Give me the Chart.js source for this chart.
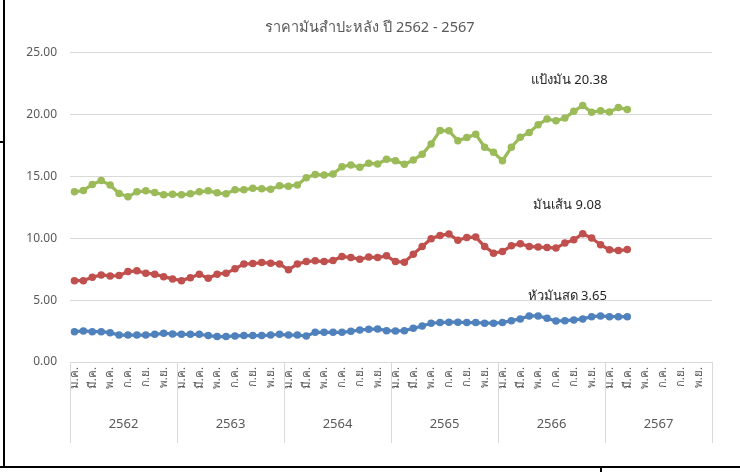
<!DOCTYPE html>
<html>
<head>
<meta charset="utf-8">
<script src="https://cdn.jsdelivr.net/npm/chart.js@4"></script>
<style>
  html, body { margin: 0; padding: 0; background: #fff; }
  #wrap { position: relative; width: 740px; height: 472px; overflow: hidden; }
  #c { position: absolute; left: 0; top: 0; }
  .ln { position: absolute; background: #000; }
</style>
</head>
<body>
<div id="wrap">
  <canvas id="c" width="740" height="472"></canvas>
  <div class="ln" style="left:3px;top:0;width:2px;height:468px"></div>
  <div class="ln" style="left:0;top:141px;width:5px;height:2px"></div>
  <div class="ln" style="left:0;top:466px;width:740px;height:2px"></div>
  <div class="ln" style="left:600px;top:467px;width:2px;height:5px"></div>
</div>
<script>
const chartTitle = 'ราคามันสำปะหลัง ปี 2562 - 2567';
const monthNames = ['ม.ค.','ก.พ.','มี.ค.','เม.ย.','พ.ค.','มิ.ย.','ก.ค.','ส.ค.','ก.ย.','ต.ค.','พ.ย.','ธ.ค.'];
const years = ['2562','2563','2564','2565','2566','2567'];
const yTicks = [0, 5, 10, 15, 20, 25];

const seriesNames = ['หัวมันสด', 'มันเส้น', 'แป้งมัน'];

const freshRoot = [
  2.45, 2.51, 2.45, 2.45, 2.37, 2.18, 2.18, 2.18, 2.18, 2.24,
  2.32, 2.27, 2.24, 2.24, 2.24, 2.13, 2.05, 2.05, 2.10, 2.13,
  2.13, 2.13, 2.18, 2.24, 2.18, 2.18, 2.10, 2.40, 2.40, 2.40,
  2.40, 2.48, 2.59, 2.64, 2.67, 2.53, 2.51, 2.53, 2.72, 2.91,
  3.13, 3.18, 3.21, 3.21, 3.18, 3.18, 3.13, 3.13, 3.18, 3.34,
  3.48, 3.72, 3.72, 3.53, 3.31, 3.34, 3.40, 3.48, 3.66, 3.72,
  3.66, 3.66, 3.65
];
const chips = [
  6.57, 6.57, 6.84, 7.03, 6.95, 6.98, 7.30, 7.36, 7.17, 7.09,
  6.89, 6.71, 6.57, 6.81, 7.09, 6.76, 7.09, 7.17, 7.52, 7.92,
  7.95, 8.03, 7.98, 7.92, 7.44, 7.92, 8.11, 8.17, 8.11, 8.19,
  8.52, 8.43, 8.30, 8.47, 8.43, 8.57, 8.11, 8.06, 8.71, 9.33,
  9.95, 10.22, 10.33, 9.83, 10.06, 10.09, 9.33, 8.79, 8.92, 9.38,
  9.55, 9.33, 9.28, 9.25, 9.20, 9.60, 9.87, 10.36, 10.01, 9.47,
  9.06, 9.00, 9.08
];
const starch = [
  13.74, 13.85, 14.34, 14.66, 14.29, 13.61, 13.34, 13.74, 13.82, 13.69,
  13.50, 13.55, 13.50, 13.58, 13.74, 13.82, 13.66, 13.58, 13.90, 13.90,
  14.04, 13.99, 13.94, 14.23, 14.20, 14.29, 14.88, 15.15, 15.10, 15.18,
  15.77, 15.91, 15.72, 16.04, 15.99, 16.37, 16.26, 15.96, 16.31, 16.78,
  17.61, 18.69, 18.67, 17.87, 18.12, 18.40, 17.34, 16.94, 16.26, 17.34,
  18.15, 18.53, 19.16, 19.62, 19.48, 19.70, 20.24, 20.72, 20.16, 20.29,
  20.18, 20.56, 20.38
];

const categories = [];
years.forEach(y => monthNames.forEach(m => categories.push(m)));

const FONT = "Tahoma, 'Noto Sans', 'DejaVu Sans', sans-serif";
const GRID = '#d9d9d9';
const TXT = '#595959';

const yearSeparators = {
  id: 'yearSeparators',
  afterDraw(chart) {
    const x = chart.scales.x, x2 = chart.scales.x2;
    const ctx = chart.ctx;
    const half = (x.getPixelForValue(1) - x.getPixelForValue(0)) / 2;
    ctx.save();
    ctx.strokeStyle = GRID;
    ctx.lineWidth = 1;
    for (let k = 0; k <= years.length; k++) {
      const px = k < years.length ? x.getPixelForValue(k * 12) - half
                                  : x.getPixelForValue(categories.length - 1) + half;
      const xx = Math.round(px) + 0.5;
      ctx.beginPath();
      ctx.moveTo(xx, chart.chartArea.bottom);
      ctx.lineTo(xx, x2.bottom);
      ctx.stroke();
    }
    ctx.restore();
  }
};

const lastLabels = {
  id: 'lastLabels',
  afterDatasetsDraw(chart, args, opts) {
    const ctx = chart.ctx;
    ctx.save();
    ctx.font = '13px ' + FONT;
    ctx.fillStyle = '#262626';
    ctx.textAlign = 'center';
    ctx.textBaseline = 'middle';
    chart.data.datasets.forEach((ds, i) => {
      const meta = chart.getDatasetMeta(i);
      const pt = meta.data[meta.data.length - 1];
      const v = ds.data[ds.data.length - 1];
      const off = opts.offsets[i];
      ctx.fillText(ds.label + ' ' + v.toFixed(2), pt.x + off[0], pt.y + off[1]);
    });
    ctx.restore();
  }
};

const colors = ['#4F81BD', '#C0504D', '#9BBB59'];
const seriesData = [freshRoot, chips, starch];

new Chart(document.getElementById('c'), {
  type: 'line',
  data: {
    labels: categories,
    datasets: seriesData.map((d, i) => ({
      label: seriesNames[i],
      data: d,
      borderColor: colors[i],
      backgroundColor: colors[i],
      borderWidth: 3.25,
      pointRadius: 3.75,
      pointBorderWidth: 0,
      pointHoverRadius: 3.75,
      tension: 0,
      xAxisID: 'x',
      yAxisID: 'y'
    }))
  },
  options: {
    responsive: false,
    animation: false,
    devicePixelRatio: 1,
    layout: { padding: { left: 0, right: 0, top: 0, bottom: 29 } },
    plugins: {
      legend: { display: false },
      tooltip: { enabled: false },
      title: {
        display: true,
        text: chartTitle,
        color: TXT,
        font: { family: FONT, size: 14.5, weight: 'normal' },
        padding: { top: 19, bottom: 16 }
      },
      lastLabels: { offsets: [[-60, -21], [-60, -44], [-58, -29]] }
    },
    scales: {
      y: {
        min: 0, max: 25,
        afterBuildTicks(scale) { scale.ticks = yTicks.map(v => ({ value: v })); },
        afterFit(scale) { scale.width = 70; },
        border: { display: false },
        grid: { color: GRID, lineWidth: 1, drawTicks: false },
        ticks: {
          padding: 13,
          color: TXT,
          font: { family: FONT, size: 12 },
          callback: v => Number(v).toFixed(2)
        }
      },
      yRight: {
        position: 'right',
        min: 0, max: 25,
        afterFit(scale) { scale.width = 28; },
        border: { display: false },
        grid: { display: false, drawOnChartArea: false, drawTicks: false },
        ticks: { display: false }
      },
      x: {
        type: 'category',
        position: 'bottom',
        weight: 0,
        offset: true,
        afterFit(scale) { scale.height = 43; },
        grid: { display: false, drawTicks: false },
        border: { display: true, color: GRID },
        ticks: {
          autoSkip: false,
          maxRotation: 90,
          minRotation: 90,
          padding: 5,
          color: TXT,
          font: { family: FONT, size: 11.5 },
          callback: function (val, idx) { return idx % 2 === 0 ? categories[idx] : ''; }
        }
      },
      x2: {
        type: 'category',
        position: 'bottom',
        weight: 1,
        labels: years,
        offset: true,
        afterFit(scale) { scale.height = 38; },
        grid: { display: false, drawTicks: false },
        border: { display: false },
        ticks: {
          autoSkip: false,
          maxRotation: 0,
          minRotation: 0,
          padding: 11,
          color: TXT,
          font: { family: FONT, size: 13 }
        }
      }
    }
  },
  plugins: [yearSeparators, lastLabels]
});
</script>
</body>
</html>
